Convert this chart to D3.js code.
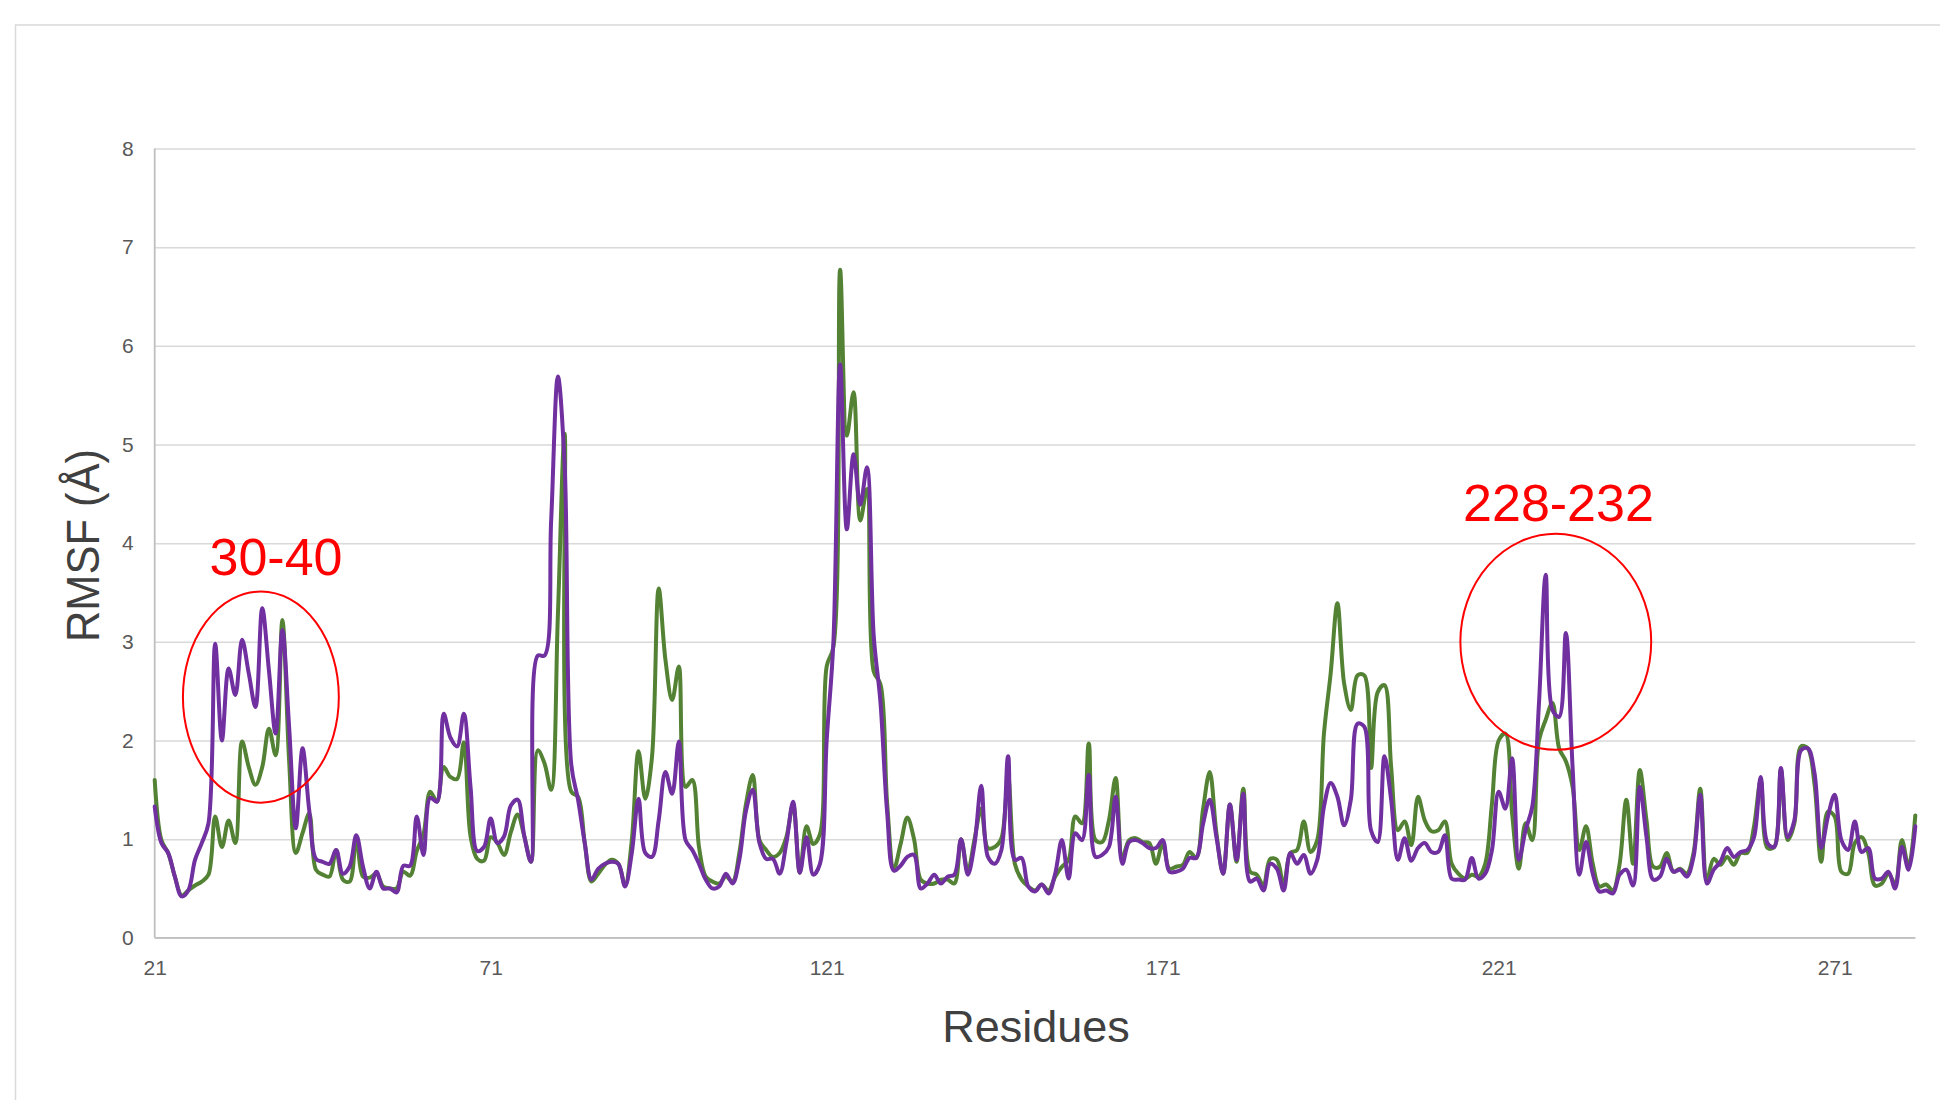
<!DOCTYPE html>
<html>
<head>
<meta charset="utf-8">
<script src="https://cdn.jsdelivr.net/npm/d3@7/dist/d3.min.js"></script>
<style>
  html, body { margin: 0; padding: 0; background: #ffffff; }
  svg { display: block; }
</style>
</head>
<body>
<svg id="chart" width="1940" height="1100"></svg>
<script>
// ---------------- data ----------------
const firstResidue = 21;
const lastResidue = 283;
const xTickLabels = [21, 71, 121, 171, 221, 271];
const yTickLabels = [0, 1, 2, 3, 4, 5, 6, 7, 8];

const greenSeries = [
  1.60,0.99,0.86,0.62,0.43,0.48,0.53,0.57,0.64,1.23,
  0.92,1.19,0.96,1.99,1.73,1.55,1.73,2.12,1.85,3.22,
  1.80,0.86,1.06,1.26,0.69,0.64,0.62,0.89,0.59,0.57,
  1.02,0.62,0.61,0.65,0.52,0.50,0.50,0.67,0.63,0.88,
  1.05,1.48,1.38,1.73,1.63,1.61,1.98,1.03,0.80,0.78,
  1.02,0.96,0.84,1.07,1.25,1.03,0.77,1.90,1.77,1.50,
  3.27,5.11,1.48,1.43,0.96,0.57,0.65,0.74,0.79,0.75,
  0.53,0.99,1.89,1.41,1.83,3.54,2.82,2.41,2.75,1.53,
  1.60,0.92,0.62,0.57,0.55,0.62,0.57,0.86,1.36,1.65,
  0.99,0.89,0.82,0.86,1.02,1.35,0.66,1.13,0.95,1.05,
  2.75,2.95,6.77,5.09,5.53,4.23,4.55,2.70,2.57,1.36,
  0.70,0.95,1.22,1.00,0.59,0.55,0.55,0.59,0.59,0.55,
  1.00,0.68,1.00,1.31,0.91,0.92,1.01,1.63,0.75,0.59,
  0.52,0.48,0.54,0.48,0.62,0.72,0.79,1.23,1.16,1.97,
  0.99,0.97,1.19,1.62,0.81,0.99,1.01,0.97,0.96,0.75,
  0.96,0.70,0.72,0.74,0.87,0.81,1.30,1.68,1.06,0.65,
  1.35,0.77,1.51,0.67,0.64,0.53,0.80,0.79,0.53,0.86,
  0.89,1.18,0.87,0.99,2.07,2.68,3.39,2.58,2.31,2.66,
  2.66,1.72,2.49,2.56,1.73,1.09,1.18,0.94,1.43,1.19,
  1.08,1.09,1.18,0.75,0.65,0.60,0.64,0.62,0.75,1.36,
  2.00,2.07,1.26,0.70,1.16,0.99,2.00,2.21,2.38,1.92,
  1.79,1.53,0.89,1.13,0.75,0.52,0.54,0.48,0.75,1.40,
  0.75,1.70,1.19,0.72,0.72,0.86,0.67,0.70,0.65,0.86,
  1.51,0.59,0.80,0.74,0.82,0.74,0.86,0.86,1.13,1.60,
  0.91,0.92,1.70,0.99,1.16,1.94,1.92,1.56,0.77,1.28,
  1.23,0.67,0.65,0.96,1.02,0.86,0.53,0.55,0.65,0.55,
  0.99,0.72,1.24
];

const purpleSeries = [
  1.33,0.96,0.86,0.62,0.42,0.48,0.79,0.96,1.16,2.98,
  2.00,2.73,2.46,3.02,2.68,2.34,3.34,2.71,2.07,3.12,
  2.14,1.11,1.92,1.29,0.80,0.77,0.75,0.89,0.65,0.72,
  1.04,0.72,0.50,0.67,0.50,0.50,0.46,0.73,0.73,1.23,
  0.84,1.42,1.38,2.27,2.03,1.94,2.27,1.53,0.88,0.92,
  1.21,0.96,1.03,1.34,1.40,1.03,0.77,2.86,2.86,4.23,
  5.69,4.80,1.75,1.40,0.96,0.59,0.70,0.75,0.77,0.75,
  0.52,0.86,1.41,0.86,0.82,1.19,1.68,1.46,1.99,0.99,
  0.89,0.75,0.59,0.50,0.52,0.65,0.55,0.79,1.29,1.50,
  0.96,0.80,0.80,0.65,0.96,1.38,0.66,1.02,0.64,0.75,
  2.00,3.00,5.81,4.14,4.90,4.39,4.77,3.06,2.39,1.27,
  0.68,0.73,0.82,0.84,0.50,0.55,0.64,0.55,0.62,0.64,
  1.00,0.64,0.95,1.54,0.82,0.75,0.89,1.84,0.79,0.81,
  0.52,0.47,0.54,0.45,0.65,0.99,0.60,1.06,0.99,1.65,
  0.82,0.84,0.92,1.43,0.75,0.97,0.99,0.96,0.91,0.91,
  0.99,0.67,0.67,0.70,0.81,0.81,1.15,1.40,1.02,0.65,
  1.35,0.79,1.46,0.57,0.60,0.48,0.75,0.70,0.48,0.86,
  0.75,0.84,0.65,0.79,1.33,1.57,1.43,1.14,1.40,2.17,
  2.14,1.09,0.97,1.84,1.40,0.79,1.01,0.78,0.91,0.96,
  0.87,0.87,1.04,0.60,0.59,0.59,0.81,0.60,0.65,0.89,
  1.48,1.31,1.82,0.79,1.09,1.33,2.38,3.68,2.31,2.24,
  3.09,1.73,0.64,0.97,0.65,0.47,0.48,0.45,0.64,0.69,
  0.53,1.53,1.02,0.59,0.62,0.80,0.67,0.69,0.62,0.82,
  1.45,0.55,0.69,0.77,0.91,0.82,0.87,0.89,1.02,1.63,
  0.96,0.92,1.72,1.02,1.19,1.90,1.92,1.67,0.91,1.23,
  1.45,0.99,0.89,1.18,0.87,0.91,0.60,0.60,0.67,0.50,
  0.92,0.69,1.13
];

const residues = d3.range(firstResidue, lastResidue + 1);

// annotations (data units: residue, RMSF)
const annotationLabels = ["30-40", "228-232"];
const annotationCenters = [[36.8, 2.44], [229.5, 3.0]];
const annotationRadii = [[11.6, 1.07], [14.2, 1.095]];
const annotationLabelAt = [[39.05, 3.68], [229.9, 4.22]];

// ---------------- drawing ----------------
(function () {
const svg = d3.select("#chart");
const W = 1940, H = 1100;
const plotLeft = 154.7, plotRight = 1915.3, plotTop = 148.5, plotBottom = 937.8;

const x = d3.scaleLinear().domain([firstResidue, lastResidue]).range([plotLeft, plotRight]);
const y = d3.scaleLinear().domain([0, 8]).range([plotBottom, plotTop]);

svg.append("rect").attr("width", W).attr("height", H).attr("fill", "#ffffff");

// outer frame (extends beyond the right/bottom edges)
svg.append("rect")
  .attr("x", 15.5).attr("y", 25).attr("width", 2000).attr("height", 1200)
  .attr("fill", "none").attr("stroke", "#d9d9d9").attr("stroke-width", 1.5);

// y axis with gridlines
const yAxis = svg.append("g")
  .attr("transform", `translate(${plotLeft},0)`)
  .call(d3.axisLeft(y).tickValues(yTickLabels).tickSize(-(plotRight - plotLeft)).tickPadding(21).tickFormat(d3.format("d")));
yAxis.select(".domain").remove();
yAxis.selectAll(".tick line").attr("stroke", "#d9d9d9").attr("stroke-width", 1.5);
yAxis.selectAll(".tick text")
  .attr("font-family", "'Liberation Sans', Arial, sans-serif")
  .attr("font-size", 21).attr("fill", "#595959");

// x axis
const xAxis = svg.append("g")
  .attr("transform", `translate(0,${plotBottom})`)
  .call(d3.axisBottom(x).tickValues(xTickLabels).tickSize(0).tickPadding(22).tickFormat(d3.format("d")));
xAxis.select(".domain").remove();
xAxis.selectAll(".tick text")
  .attr("font-family", "'Liberation Sans', Arial, sans-serif")
  .attr("font-size", 21).attr("fill", "#595959");

// axis lines
svg.append("line").attr("x1", plotLeft).attr("x2", plotLeft).attr("y1", plotTop).attr("y2", plotBottom)
  .attr("stroke", "#bfbfbf").attr("stroke-width", 1.8);
svg.append("line").attr("x1", plotLeft).attr("x2", plotRight).attr("y1", plotBottom).attr("y2", plotBottom)
  .attr("stroke", "#bfbfbf").attr("stroke-width", 1.8);

// series
const line = d3.line()
  .x((d, i) => x(residues[i]))
  .y(d => y(d))
  .curve(d3.curveCatmullRom.alpha(0.5));

svg.append("path").datum(greenSeries)
  .attr("d", line).attr("fill", "none")
  .attr("stroke", "#548235").attr("stroke-width", 4)
  .attr("stroke-linejoin", "round").attr("stroke-linecap", "round");

svg.append("path").datum(purpleSeries)
  .attr("d", line).attr("fill", "none")
  .attr("stroke", "#7030a0").attr("stroke-width", 4)
  .attr("stroke-linejoin", "round").attr("stroke-linecap", "round");

// annotations
annotationLabels.forEach((lab, i) => {
  const [cx, cy] = annotationCenters[i];
  const [rx, ry] = annotationRadii[i];
  svg.append("ellipse")
    .attr("cx", x(cx)).attr("cy", y(cy))
    .attr("rx", x(firstResidue + rx) - x(firstResidue))
    .attr("ry", y(0) - y(ry))
    .attr("fill", "none").attr("stroke", "#ff0000").attr("stroke-width", 2);
  const [lx, ly] = annotationLabelAt[i];
  svg.append("text")
    .attr("x", x(lx)).attr("y", y(ly))
    .attr("text-anchor", "middle")
    .attr("font-family", "'Liberation Sans', Arial, sans-serif")
    .attr("font-size", 52).attr("fill", "#ff0000")
    .text(lab);
});

// axis titles
svg.append("text")
  .attr("transform", "translate(99,545.5) rotate(-90)")
  .attr("text-anchor", "middle")
  .attr("font-family", "'Liberation Sans', Arial, sans-serif")
  .attr("font-size", 46).attr("fill", "#404040")
  .attr("textLength", 193).attr("lengthAdjust", "spacingAndGlyphs")
  .text("RMSF (Å)");

svg.append("text")
  .attr("x", 1036).attr("y", 1042)
  .attr("text-anchor", "middle")
  .attr("font-family", "'Liberation Sans', Arial, sans-serif")
  .attr("font-size", 45).attr("fill", "#404040")
  .text("Residues");
})();
</script>
</body>
</html>
